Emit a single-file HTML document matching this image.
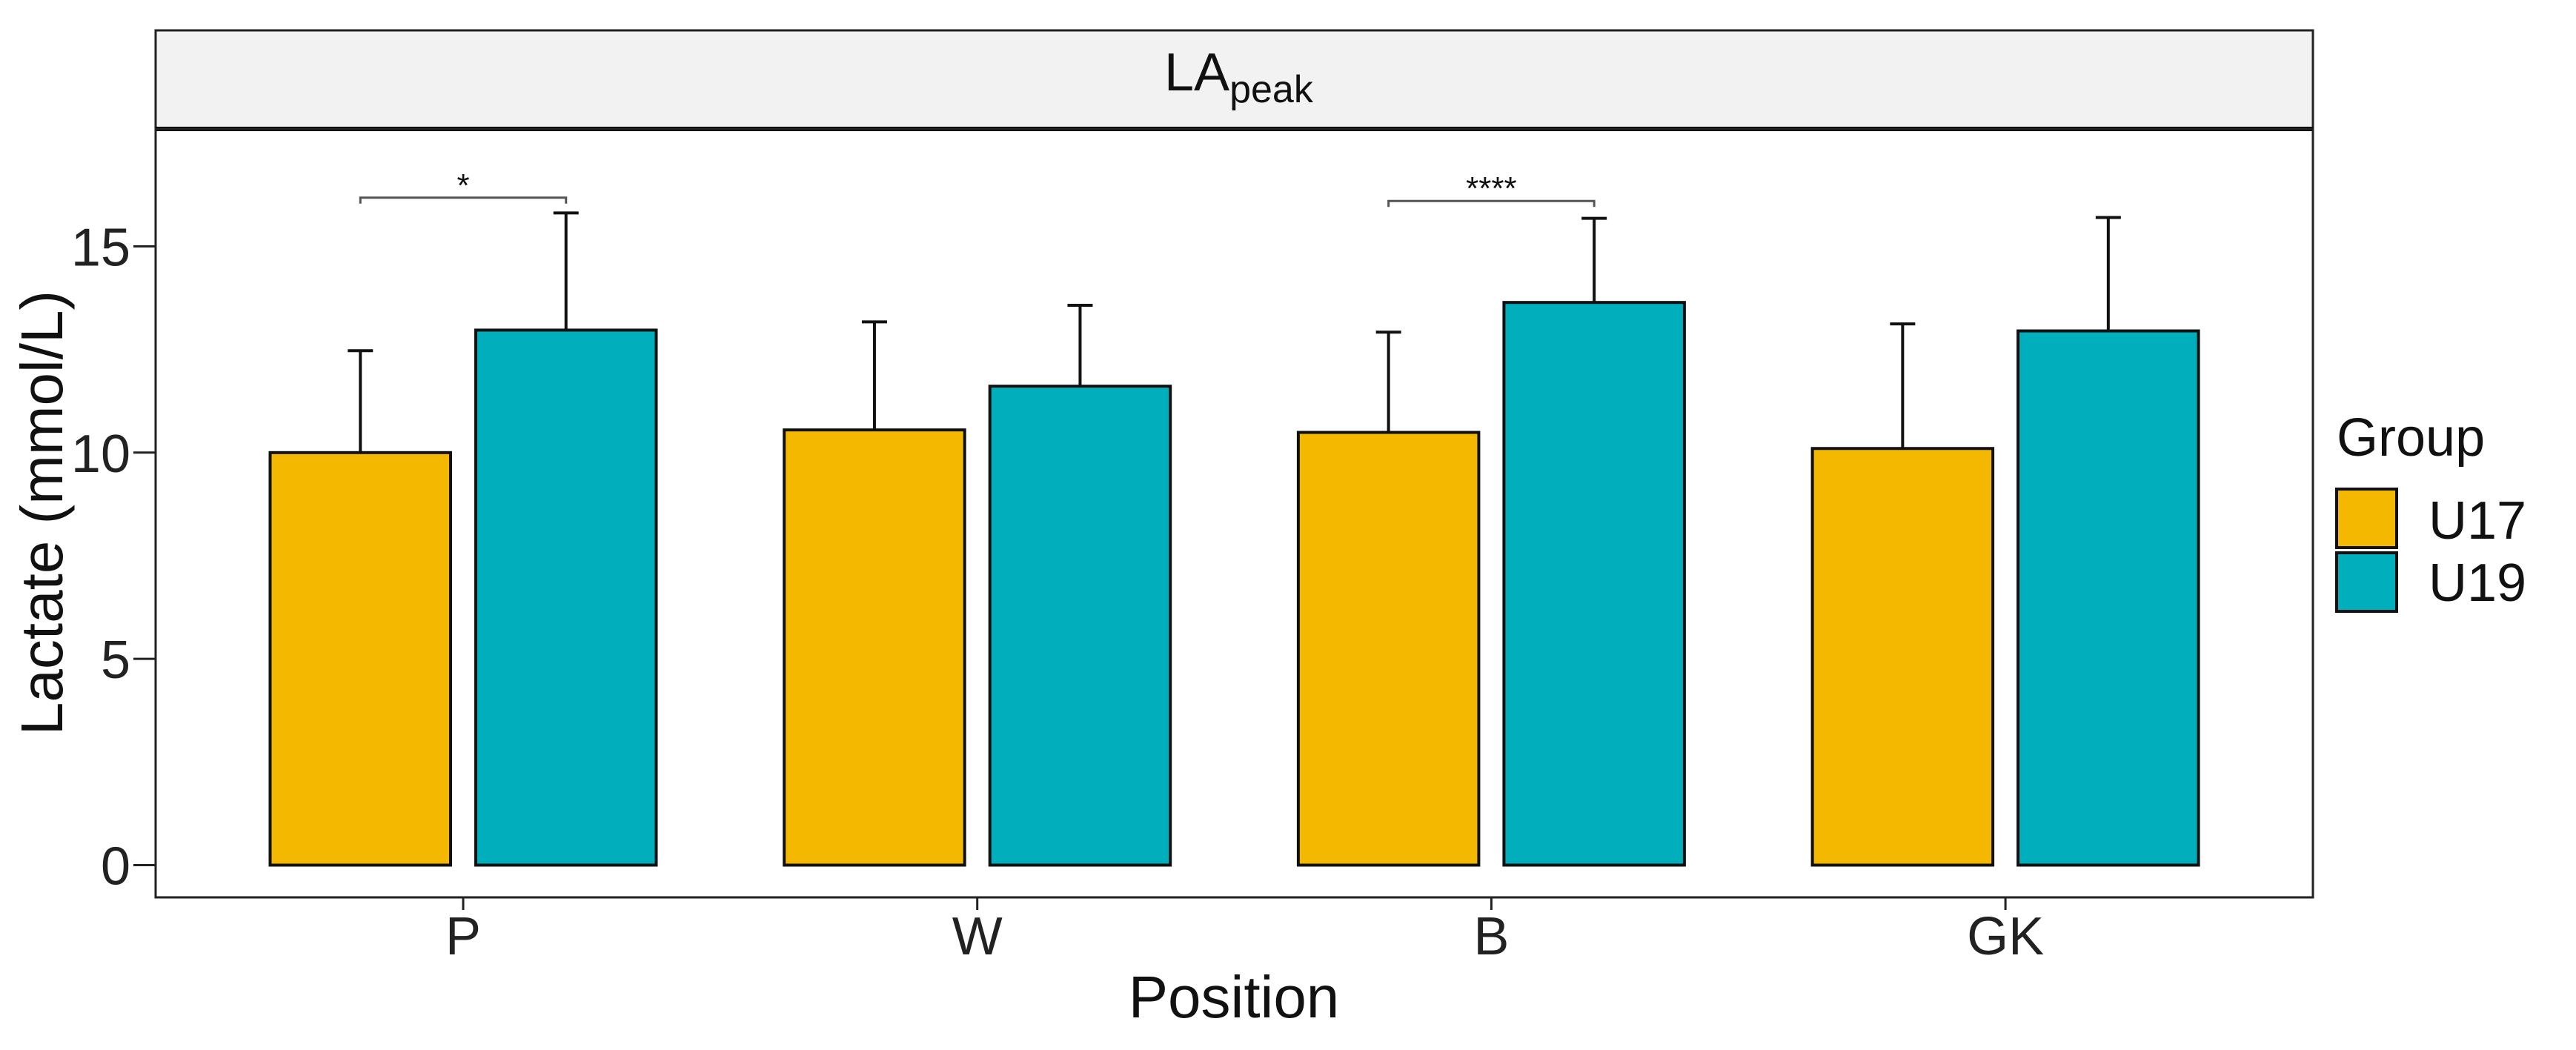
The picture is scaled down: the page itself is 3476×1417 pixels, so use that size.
<!DOCTYPE html>
<html><head><meta charset="utf-8"><style>
html,body{margin:0;padding:0;background:#fff;}
svg{display:block;font-family:"Liberation Sans",Arial,sans-serif;}
</style></head><body>
<svg id="chart" width="3476" height="1417" viewBox="0 0 3476 1417" xmlns="http://www.w3.org/2000/svg">
<rect x="0" y="0" width="3476" height="1417" fill="#fff"/>
<rect x="210" y="41" width="2911" height="133" fill="#f2f2f2" stroke="#222" stroke-width="3"/>
<line x1="210" y1="174" x2="3121" y2="174" stroke="#000" stroke-width="6"/>
<text x="1571" y="122" font-size="72" fill="#111">LA<tspan font-size="52" dy="16">peak</tspan></text>
<rect x="210" y="174" width="2911" height="1037" fill="none" stroke="#222" stroke-width="3"/>
<g id="bars"></g>
<g id="yaxis"></g>
<g id="xaxis"></g>
<text x="1665" y="1373" font-size="80" text-anchor="middle" fill="#111">Position</text>
<text transform="translate(84,692) rotate(-90)" font-size="80" text-anchor="middle" fill="#111">Lactate (mmol/L)</text>
<text x="3153" y="615" font-size="72" fill="#111">Group</text>
<rect x="3153" y="660" width="81" height="79" fill="#F5B800" stroke="#111" stroke-width="4"/>
<rect x="3153" y="746" width="81" height="79" fill="#00AFBB" stroke="#111" stroke-width="4"/>
<text x="3277" y="727" font-size="72" fill="#111">U17</text>
<text x="3277" y="811" font-size="72" fill="#111">U19</text>
</svg>
<script>
const categories = ["P","W","B","GK"];
const u17Means = [10.0, 10.55, 10.49, 10.10];
const u17Err = [12.47, 13.17, 12.92, 13.12];
const u19Means = [12.97, 11.61, 13.64, 12.95];
const u19Err = [15.81, 13.57, 15.68, 15.70];
const yTicks = [0, 5, 10, 15];
const sigCats = ["P","B"];
const sigLabels = ["*","****"];
const sigY = [16.18, 16.10];

const NS = "http://www.w3.org/2000/svg";
const y0px = 1167.5, pxPerUnit = 55.67;
function yScale(v){ return y0px - v * pxPerUnit; }
const firstX = 625, stepX = 693.7;
function xScale(i){ return firstX + i * stepX; }
const barW = 243.5, gap = 34;
function mk(tag, attrs, parent){ const e = document.createElementNS(NS, tag); for (const k in attrs) e.setAttribute(k, attrs[k]); parent.appendChild(e); return e; }
const bars = document.getElementById("bars");
const series = [
  {m: u17Means, e: u17Err, color: "#F5B800", off: -(barW/2 + gap/2), name: "u17"},
  {m: u19Means, e: u19Err, color: "#00AFBB", off: (barW/2 + gap/2), name: "u19"}
];
series.forEach(s => {
  categories.forEach((c, i) => {
    const cx = xScale(i) + s.off;
    const ln = mk("line", {x1: cx, x2: cx, y1: yScale(s.m[i]), y2: yScale(s.e[i]), stroke: "#111", "stroke-width": 4}, bars);
    
    
    const cap = mk("line", {x1: cx - 17, x2: cx + 17, y1: yScale(s.e[i]), y2: yScale(s.e[i]), stroke: "#111", "stroke-width": 4}, bars);
    
    
    const r = mk("rect", {x: cx - barW/2, y: yScale(s.m[i]), width: barW, height: yScale(0) - yScale(s.m[i]), fill: s.color, stroke: "#111", "stroke-width": 4}, bars);
    
    
  });
});
sigCats.forEach((c, k) => {
  const i = categories.indexOf(c);
  const xa = xScale(i) + series[0].off, xb = xScale(i) + series[1].off, yy = yScale(sigY[k]);
  const p = mk("path", {d: `M${xa},${yy+8} L${xa},${yy} L${xb},${yy} L${xb},${yy+8}`, fill: "none", stroke: "#555", "stroke-width": 3}, bars);
  
  
  const t = mk("text", {x: (xa + xb)/2, y: yy - 2, "font-size": 44, "text-anchor": "middle", fill: "#111"}, bars);
  t.textContent = sigLabels[k];
  
  
});
const ya = document.getElementById("yaxis");
yTicks.forEach(v => {
  const tk = mk("line", {x1: 180, x2: 210, y1: yScale(v), y2: yScale(v), stroke: "#222", "stroke-width": 3}, ya);
  
  
  const t = mk("text", {x: 176, y: yScale(v) + 26, "font-size": 72, "text-anchor": "end", fill: "#222"}, ya);
  t.textContent = v;
  
  
});
const xa = document.getElementById("xaxis");
categories.forEach((c, i) => {
  const tk = mk("line", {x1: xScale(i), x2: xScale(i), y1: 1211, y2: 1228, stroke: "#222", "stroke-width": 3}, xa);
  
  
  const t = mk("text", {x: xScale(i), y: 1288, "font-size": 72, "text-anchor": "middle", fill: "#222"}, xa);
  t.textContent = c;
  
  
});
</script>
</body></html>
